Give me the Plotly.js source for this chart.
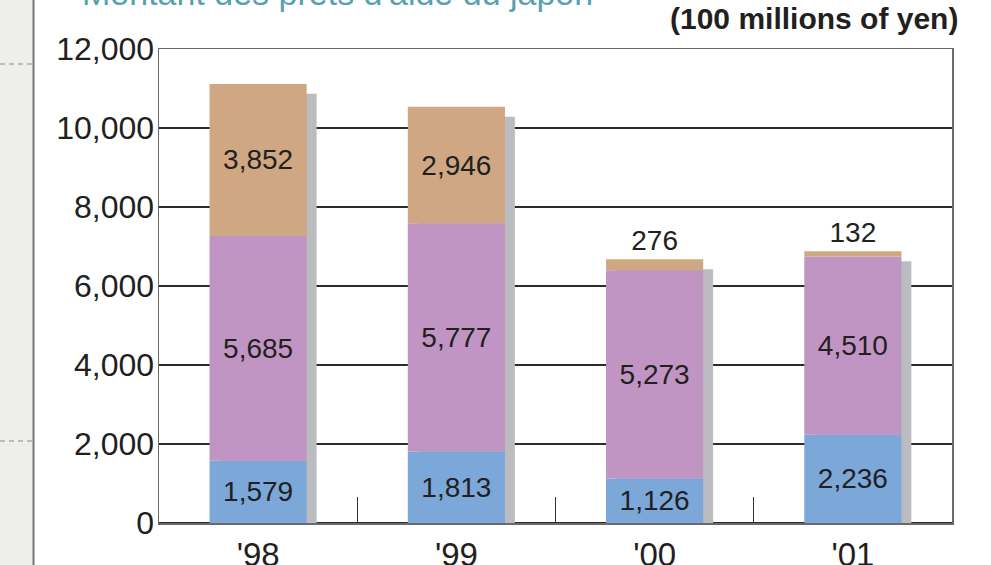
<!DOCTYPE html>
<html>
<head>
<meta charset="utf-8">
<script src="https://cdn.plot.ly/plotly-3.0.1.min.js"></script>
<style>
html,body{margin:0;padding:0;background:#fff;}
#chart{width:991px;height:565px;}
</style>
</head>
<body>
<div id="chart"></div>
<script>
// ---- data ----
const years = ["'98", "'99", "'00", "'01"];
const blueVals = [1579, 1813, 1126, 2236];
const purpleVals = [5685, 5777, 5273, 4510];
const tanVals = [3852, 2946, 276, 132];
const yTickVals = [0, 2000, 4000, 6000, 8000, 10000, 12000];
const yTickText = ["0", "2,000", "4,000", "6,000", "8,000", "10,000", "12,000"];
const titleText = "Montant des prêts d'aide du japon";
const unitText = "(100 millions of yen)";

// ---- layout constants ----
const W = 991, H = 565;
const L = 159, R = 952, T = 49, B = 523;
const pw = R - L, ph = B - T;
const px = x => (x - L) / pw;
const py = y => (B - y) / ph;

const FONT = '"Liberation Sans", Arial, sans-serif';
const barW = 0.49;
const shadowShift = 0.05;
const shadowDrop = 250;

const fmt = v => v.toLocaleString('en-US');
const purpleBase = blueVals.slice();
const tanBase = blueVals.map((b, i) => b + purpleVals[i]);
const totals = tanBase.map((b, i) => b + tanVals[i]);

const common = {
  type: 'bar', x: years, width: barW, offset: -barW / 2,
  hoverinfo: 'skip', marker: {line: {width: 0}},
  textangle: 0, constraintext: 'none', insidetextanchor: 'middle',
  textfont: {family: FONT, size: 28, color: '#231f20'},
  outsidetextfont: {family: FONT, size: 28, color: '#231f20'},
  cliponaxis: false
};

const traces = [
  Object.assign({}, common, {
    name: 'shadow', y: totals, base: totals.map(() => -shadowDrop),
    offset: -barW / 2 + shadowShift, marker: {color: '#bbbcc0', line: {width: 0}},
    text: totals.map(() => ''), cliponaxis: true
  }),
  Object.assign({}, common, {
    name: 'blue', y: blueVals, base: blueVals.map(() => 0),
    marker: {color: '#7ba7d9', line: {width: 0}},
    text: blueVals.map(fmt), textposition: 'inside'
  }),
  Object.assign({}, common, {
    name: 'purple', y: purpleVals, base: purpleBase,
    marker: {color: '#c195c3', line: {width: 0}},
    text: purpleVals.map(fmt), textposition: 'inside'
  }),
  Object.assign({}, common, {
    name: 'tan', y: tanVals, base: tanBase,
    marker: {color: '#cfa783', line: {width: 0}},
    text: tanVals.map(fmt),
    textposition: tanVals.map(v => v > 1000 ? 'inside' : 'outside')
  })
];

const layout = {
  width: W, height: H,
  margin: {l: L, r: W - R, t: T, b: H - B, pad: 0},
  paper_bgcolor: '#ffffff', plot_bgcolor: '#ffffff',
  showlegend: false,
  barmode: 'overlay',
  font: {family: FONT, color: '#231f20'},
  title: {
    text: titleText, x: 82 / W, xanchor: 'left', xref: 'container',
    yref: 'container', y: 1 - 5 / H, yanchor: 'bottom',
    font: {family: '"Liberation Sans", Arial, sans-serif', size: 34, color: '#5a9fb0'}
  },
  xaxis: {
    type: 'category', range: [-0.5, 3.5], fixedrange: true,
    showgrid: false, zeroline: false,
    showline: true, linecolor: '#6a6a6a', linewidth: 1.5, mirror: true,
    ticks: 'inside', tickson: 'boundaries', ticklen: 26, tickwidth: 1.3, tickcolor: '#333',
    tickfont: {family: FONT, size: 33, color: '#231f20'},
    ticklabelstandoff: 2
  },
  yaxis: {
    range: [0, 12000], fixedrange: true,
    tickvals: yTickVals, ticktext: yTickText,
    showgrid: true, gridcolor: '#2b2b2b', gridwidth: 1.4,
    zeroline: true, zerolinecolor: '#2b2b2b', zerolinewidth: 2,
    showline: true, linecolor: '#6a6a6a', linewidth: 1.5, mirror: true,
    ticks: '', tickfont: {family: FONT, size: 32, color: '#231f20'},
    ticklabelstandoff: -3
  },
  annotations: [{
    text: '<b>' + unitText + '</b>', xref: 'paper', yref: 'paper',
    x: px(960), y: py(0), xanchor: 'right', yanchor: 'top', showarrow: false,
    font: {family: FONT, size: 30, color: '#231f20'}
  }],
  shapes: [
    {type: 'rect', xref: 'paper', yref: 'paper', x0: px(-5), x1: px(33.5), y0: py(570), y1: py(-5),
     fillcolor: '#eeeeea', line: {width: 0}, layer: 'below'},
    {type: 'line', xref: 'paper', yref: 'paper', x0: px(33.5), x1: px(33.5), y0: py(570), y1: py(-5),
     line: {color: '#777777', width: 2}},
    {type: 'line', xref: 'paper', yref: 'paper', x0: px(0), x1: px(32), y0: py(64), y1: py(64),
     line: {color: '#aaaaaa', width: 1.5, dash: '5px,4px'}},
    {type: 'line', xref: 'paper', yref: 'paper', x0: px(0), x1: px(32), y0: py(441), y1: py(441),
     line: {color: '#aaaaaa', width: 1.5, dash: '5px,4px'}}
  ]
};

Plotly.newPlot('chart', traces, layout, {staticPlot: true, displayModeBar: false});
</script>
</body>
</html>
